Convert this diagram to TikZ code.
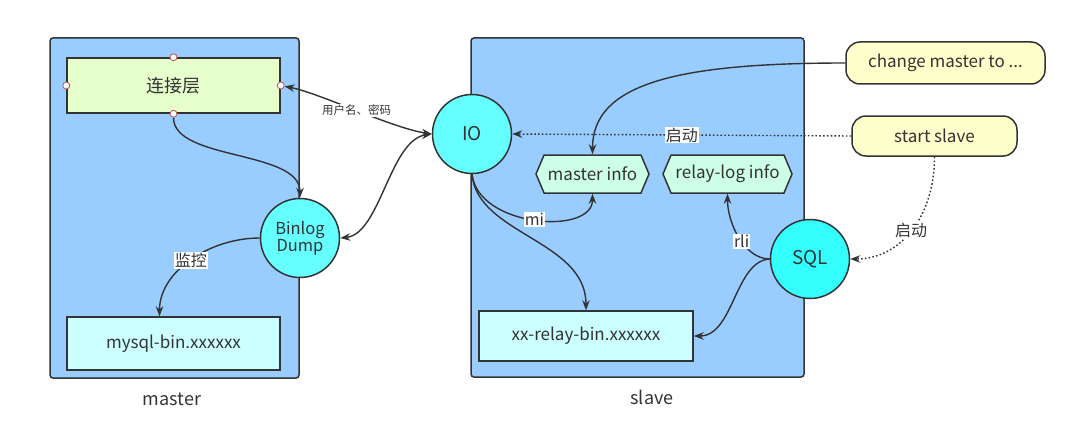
\documentclass[tikz,border=0pt]{standalone}
\usepackage{fontspec}
\setmainfont{Noto Sans CJK SC}
\usetikzlibrary{shapes.symbols,arrows.meta,calc}
\definecolor{bluebox}{HTML}{99CCFF}
\definecolor{linkgreen}{HTML}{E6FFCC}
\definecolor{filecyan}{HTML}{CCFFFF}
\definecolor{thrcyan}{HTML}{66FFFF}
\definecolor{sqlcyan}{HTML}{33FFFF}
\definecolor{hexgreen}{HTML}{CCFFE6}
\definecolor{pillyellow}{HTML}{FFFFCC}
\definecolor{edge}{HTML}{333333}
\definecolor{txt}{HTML}{333333}
\definecolor{portred}{HTML}{B85450}
\begin{document}
\begin{tikzpicture}[x=1pt,y=-1pt,
  bigbox/.style={draw=edge,line width=1.5pt,fill=bluebox,rounded corners=3pt},
  rectbox/.style={draw=edge,line width=1.5pt,text=txt,font=\fontsize{17}{20}\selectfont},
  circ/.style={circle,draw=edge,line width=1.5pt,fill=thrcyan,minimum size=79pt,inner sep=0pt,align=center,text=txt},
  hexa/.style={signal,signal to=east and west,signal pointer angle=134,draw=edge,line width=1.5pt,fill=hexgreen,minimum height=38pt,inner sep=0pt,text=txt,font=\fontsize{17}{20}\selectfont},
  pill/.style={draw=edge,line width=1.5pt,fill=pillyellow,rounded corners=14pt,text=txt,font=\fontsize{17}{20}\selectfont},
  port/.style={circle,draw=portred,fill=white,line width=0.8pt,minimum size=7pt,inner sep=0pt},
  conn/.style={draw=edge,line width=1.4pt},
  arr/.style={conn,-{Stealth[length=10pt,width=7.5pt]}},
  darr/.style={conn,{Stealth[length=10pt,width=7.5pt]}-{Stealth[length=10pt,width=7.5pt]}},
  dotarr/.style={conn,dash pattern=on 1.6pt off 2.2pt,-{Stealth[length=10pt,width=7.5pt]}},
  lab/.style={fill=white,inner sep=1pt,text=txt,font=\fontsize{16}{19}\selectfont},
  smalllab/.style={fill=white,inner sep=1pt,text=txt,font=\fontsize{11.5}{14}\selectfont},
  caption/.style={text=txt,font=\fontsize{18}{21}\selectfont}
]
\useasboundingbox (0,0) rectangle (1082,428);

% containers
\node[bigbox,minimum width=249pt,minimum height=340pt] (masterbox) at (174.5,208) {};
\node[bigbox,minimum width=333pt,minimum height=339pt] (slavebox) at (637.5,207.5) {};
\node[caption] (masterlbl) at (172,399) {master};
\node[caption] (slavelbl) at (652,397) {slave};

% master side
\node[rectbox,fill=linkgreen,minimum width=213pt,minimum height=55pt,font=\fontsize{18}{21}\selectfont] (link) at (173.5,85.5) {连接层};
\node[port] (p1) at (link.north) {};
\node[port] (p2) at (link.south) {};
\node[port] (p3) at (link.west) {};
\node[port] (p4) at (link.east) {};
\node[rectbox,fill=filecyan,minimum width=213pt,minimum height=53pt] (mysql) at (173.5,343.5) {mysql-bin.xxxxxx};
\node[circ,font=\fontsize{16.5}{19}\selectfont] (binlog) at (300,238) {Binlog\\[-2pt]Dump};

% slave side
\node[circ,font=\fontsize{19}{22}\selectfont] (io) at (472,134) {IO};
\node[circ,fill=sqlcyan,font=\fontsize{19}{22}\selectfont] (sql) at (810,259) {SQL};
\node[hexa,minimum width=113pt] (mi) at (592.5,174) {master info};
\node[hexa,minimum width=129pt] (rl) at (727.5,174) {relay-log info};
\node[rectbox,fill=filecyan,minimum width=214pt,minimum height=50pt] (xr) at (586,336) {xx-relay-bin.xxxxxx};

% commands
\node[pill,minimum width=199pt,minimum height=42pt] (cm) at (945.5,63) {change master to ...};
\node[pill,minimum width=165pt,minimum height=40pt] (ss) at (934.5,136) {start slave};

% connectors
\draw[arr] (p2) .. controls +(0,47) and +(0,-48) .. (binlog.north);
\draw[darr] (p4) .. controls +(40,8) and +(-40,-6) .. node[smalllab] {用户名、密码} (io.west);
\draw[darr] (binlog.east) .. controls +(40,-4) and +(-42,6) .. (io.west);
\draw[arr] (binlog.west) .. controls +(-50,0) and +(0,-45) .. node[lab] {监控} ($(mysql.north)+(-14,0)$);
\draw[arr] (cm.west) .. controls +(-170,0) and +(0,-70) .. (mi.north);
\draw[dotarr] (ss.west) -- node[lab] {启动} (io.east);
\draw[dotarr] (ss.south) .. controls +(0,60) and +(50,0) .. node[lab] {启动} (sql.east);
\draw[arr] (io.south) .. controls +(6,53) and +(0,42) .. node[lab] {mi} (mi.south);
\draw[arr] (io.south) .. controls +(5,60) and +(0,-70) .. (xr.north);
\draw[arr] (sql.west) .. controls +(-25,0) and +(0,30) .. node[lab,pos=0.45] {rli} (rl.south);
\draw[arr] (sql.west) .. controls +(-35,2) and +(40,0) .. (xr.east);
\end{tikzpicture}
\end{document}
